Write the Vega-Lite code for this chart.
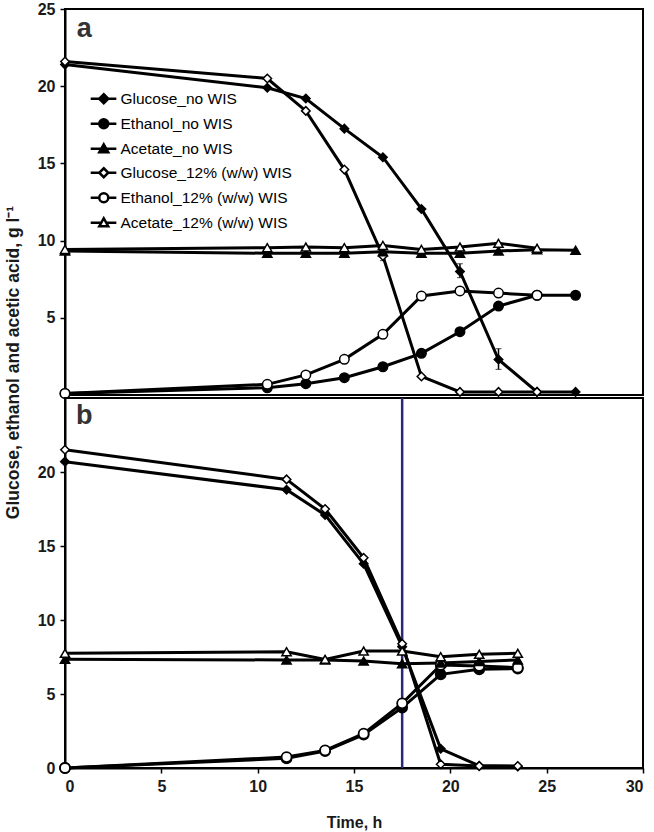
{
  "$schema": "https://vega.github.io/schema/vega-lite/v6.json",
  "background": "white",
  "padding": {"left": 4, "top": 0, "right": 8, "bottom": 1},
  "spacing": 3,
  "bounds": "flush",
  "title": {"text": "Glucose, ethanol and acetic acid, g l⁻¹", "orient": "left", "anchor": "middle", "fontSize": 17.5, "fontWeight": "bold", "font": "Liberation Sans", "color": "#1a1a1a", "offset": 14, "dx": 53},
  "datasets": {
    "a": [
      {"series": "Glucose_no WIS", "t": 0, "v": 21.4}, {"series": "Glucose_no WIS", "t": 10.5, "v": 19.9}, {"series": "Glucose_no WIS", "t": 12.5, "v": 19.2}, {"series": "Glucose_no WIS", "t": 14.5, "v": 17.25}, {"series": "Glucose_no WIS", "t": 16.5, "v": 15.4}, {"series": "Glucose_no WIS", "t": 18.5, "v": 12.05}, {"series": "Glucose_no WIS", "t": 20.5, "v": 8.0}, {"series": "Glucose_no WIS", "t": 22.5, "v": 2.3}, {"series": "Glucose_no WIS", "t": 24.5, "v": 0.2}, {"series": "Glucose_no WIS", "t": 26.5, "v": 0.2},
      {"series": "Ethanol_no WIS", "t": 0, "v": 0.1}, {"series": "Ethanol_no WIS", "t": 10.5, "v": 0.47}, {"series": "Ethanol_no WIS", "t": 12.5, "v": 0.73}, {"series": "Ethanol_no WIS", "t": 14.5, "v": 1.12}, {"series": "Ethanol_no WIS", "t": 16.5, "v": 1.83}, {"series": "Ethanol_no WIS", "t": 18.5, "v": 2.7}, {"series": "Ethanol_no WIS", "t": 20.5, "v": 4.1}, {"series": "Ethanol_no WIS", "t": 22.5, "v": 5.76}, {"series": "Ethanol_no WIS", "t": 24.5, "v": 6.46}, {"series": "Ethanol_no WIS", "t": 26.5, "v": 6.46},
      {"series": "Acetate_no WIS", "t": 0, "v": 9.33}, {"series": "Acetate_no WIS", "t": 10.5, "v": 9.18}, {"series": "Acetate_no WIS", "t": 12.5, "v": 9.18}, {"series": "Acetate_no WIS", "t": 14.5, "v": 9.18}, {"series": "Acetate_no WIS", "t": 16.5, "v": 9.28}, {"series": "Acetate_no WIS", "t": 18.5, "v": 9.18}, {"series": "Acetate_no WIS", "t": 20.5, "v": 9.18}, {"series": "Acetate_no WIS", "t": 22.5, "v": 9.33}, {"series": "Acetate_no WIS", "t": 24.5, "v": 9.4}, {"series": "Acetate_no WIS", "t": 26.5, "v": 9.37},
      {"series": "Glucose_12% (w/w) WIS", "t": 0, "v": 21.6}, {"series": "Glucose_12% (w/w) WIS", "t": 10.5, "v": 20.5}, {"series": "Glucose_12% (w/w) WIS", "t": 12.5, "v": 18.4}, {"series": "Glucose_12% (w/w) WIS", "t": 14.5, "v": 14.6}, {"series": "Glucose_12% (w/w) WIS", "t": 16.5, "v": 9.0}, {"series": "Glucose_12% (w/w) WIS", "t": 18.5, "v": 1.2}, {"series": "Glucose_12% (w/w) WIS", "t": 20.5, "v": 0.2}, {"series": "Glucose_12% (w/w) WIS", "t": 22.5, "v": 0.2}, {"series": "Glucose_12% (w/w) WIS", "t": 24.5, "v": 0.2},
      {"series": "Ethanol_12% (w/w) WIS", "t": 0, "v": 0.1}, {"series": "Ethanol_12% (w/w) WIS", "t": 10.5, "v": 0.69}, {"series": "Ethanol_12% (w/w) WIS", "t": 12.5, "v": 1.3}, {"series": "Ethanol_12% (w/w) WIS", "t": 14.5, "v": 2.31}, {"series": "Ethanol_12% (w/w) WIS", "t": 16.5, "v": 3.93}, {"series": "Ethanol_12% (w/w) WIS", "t": 18.5, "v": 6.41}, {"series": "Ethanol_12% (w/w) WIS", "t": 20.5, "v": 6.74}, {"series": "Ethanol_12% (w/w) WIS", "t": 22.5, "v": 6.6}, {"series": "Ethanol_12% (w/w) WIS", "t": 24.5, "v": 6.46},
      {"series": "Acetate_12% (w/w) WIS", "t": 0, "v": 9.43}, {"series": "Acetate_12% (w/w) WIS", "t": 10.5, "v": 9.54}, {"series": "Acetate_12% (w/w) WIS", "t": 12.5, "v": 9.58}, {"series": "Acetate_12% (w/w) WIS", "t": 14.5, "v": 9.54}, {"series": "Acetate_12% (w/w) WIS", "t": 16.5, "v": 9.69}, {"series": "Acetate_12% (w/w) WIS", "t": 18.5, "v": 9.43}, {"series": "Acetate_12% (w/w) WIS", "t": 20.5, "v": 9.58}, {"series": "Acetate_12% (w/w) WIS", "t": 22.5, "v": 9.82}, {"series": "Acetate_12% (w/w) WIS", "t": 24.5, "v": 9.5}
    ],
    "aerr": [
      {"series": "Glucose_no WIS", "t": 20.5, "lo": 7.6, "hi": 8.5},
      {"series": "Glucose_no WIS", "t": 22.5, "lo": 1.66, "hi": 3.0},
      {"series": "Glucose_12% (w/w) WIS", "t": 16.5, "lo": 8.7, "hi": 9.1}
    ],
    "b": [
      {"series": "Glucose_no WIS", "t": 0, "v": 20.7}, {"series": "Glucose_no WIS", "t": 11.5, "v": 18.8}, {"series": "Glucose_no WIS", "t": 13.5, "v": 17.1}, {"series": "Glucose_no WIS", "t": 15.5, "v": 13.8}, {"series": "Glucose_no WIS", "t": 17.5, "v": 8.2}, {"series": "Glucose_no WIS", "t": 19.5, "v": 1.3}, {"series": "Glucose_no WIS", "t": 21.5, "v": 0.15}, {"series": "Glucose_no WIS", "t": 23.5, "v": 0.1},
      {"series": "Ethanol_no WIS", "t": 0, "v": 0}, {"series": "Ethanol_no WIS", "t": 11.5, "v": 0.65}, {"series": "Ethanol_no WIS", "t": 13.5, "v": 1.15}, {"series": "Ethanol_no WIS", "t": 15.5, "v": 2.25}, {"series": "Ethanol_no WIS", "t": 17.5, "v": 4.08}, {"series": "Ethanol_no WIS", "t": 19.5, "v": 6.33}, {"series": "Ethanol_no WIS", "t": 21.5, "v": 6.67}, {"series": "Ethanol_no WIS", "t": 23.5, "v": 6.72},
      {"series": "Acetate_no WIS", "t": 0, "v": 7.34}, {"series": "Acetate_no WIS", "t": 11.5, "v": 7.3}, {"series": "Acetate_no WIS", "t": 13.5, "v": 7.3}, {"series": "Acetate_no WIS", "t": 15.5, "v": 7.23}, {"series": "Acetate_no WIS", "t": 17.5, "v": 7.05}, {"series": "Acetate_no WIS", "t": 19.5, "v": 7.1}, {"series": "Acetate_no WIS", "t": 21.5, "v": 7.2}, {"series": "Acetate_no WIS", "t": 23.5, "v": 7.3},
      {"series": "Glucose_12% (w/w) WIS", "t": 0, "v": 21.5}, {"series": "Glucose_12% (w/w) WIS", "t": 11.5, "v": 19.5}, {"series": "Glucose_12% (w/w) WIS", "t": 13.5, "v": 17.5}, {"series": "Glucose_12% (w/w) WIS", "t": 15.5, "v": 14.2}, {"series": "Glucose_12% (w/w) WIS", "t": 17.5, "v": 8.4}, {"series": "Glucose_12% (w/w) WIS", "t": 19.5, "v": 0.25}, {"series": "Glucose_12% (w/w) WIS", "t": 21.5, "v": 0.13}, {"series": "Glucose_12% (w/w) WIS", "t": 23.5, "v": 0.13},
      {"series": "Ethanol_12% (w/w) WIS", "t": 0, "v": 0}, {"series": "Ethanol_12% (w/w) WIS", "t": 11.5, "v": 0.74}, {"series": "Ethanol_12% (w/w) WIS", "t": 13.5, "v": 1.19}, {"series": "Ethanol_12% (w/w) WIS", "t": 15.5, "v": 2.32}, {"series": "Ethanol_12% (w/w) WIS", "t": 17.5, "v": 4.37}, {"series": "Ethanol_12% (w/w) WIS", "t": 19.5, "v": 6.96}, {"series": "Ethanol_12% (w/w) WIS", "t": 21.5, "v": 6.9}, {"series": "Ethanol_12% (w/w) WIS", "t": 23.5, "v": 6.78},
      {"series": "Acetate_12% (w/w) WIS", "t": 0, "v": 7.75}, {"series": "Acetate_12% (w/w) WIS", "t": 11.5, "v": 7.86}, {"series": "Acetate_12% (w/w) WIS", "t": 13.5, "v": 7.34}, {"series": "Acetate_12% (w/w) WIS", "t": 15.5, "v": 7.9}, {"series": "Acetate_12% (w/w) WIS", "t": 17.5, "v": 7.9}, {"series": "Acetate_12% (w/w) WIS", "t": 19.5, "v": 7.52}, {"series": "Acetate_12% (w/w) WIS", "t": 21.5, "v": 7.68}, {"series": "Acetate_12% (w/w) WIS", "t": 23.5, "v": 7.75}
    ]
  },
  "vconcat": [
    {
      "width": 578,
      "height": 386,
      "layer": [
        {
          "data": {"name": "a"},
          "mark": {"type": "line", "color": "black", "strokeWidth": 3},
          "encoding": {
            "x": {"field": "t", "type": "quantitative", "scale": {"domain": [0, 30], "nice": false}, "axis": null},
            "y": {"field": "v", "type": "quantitative", "scale": {"domain": [0, 25], "nice": false}, "axis": {"title": null, "values": [5, 10, 15, 20, 25]}},
            "detail": {"field": "series"},
            "order": {"field": "t"}
          }
        },
        {
          "data": {"name": "aerr"},
          "mark": {"type": "errorbar", "ticks": {"size": 6, "color": "black", "strokeWidth": 1.5}, "rule": {"color": "black", "strokeWidth": 1.5}},
          "encoding": {
            "x": {"field": "t", "type": "quantitative"},
            "y": {"field": "lo", "type": "quantitative"},
            "y2": {"field": "hi"}
          }
        },
        {
          "data": {"name": "a"},
          "transform": [{"filter": {"field": "series", "oneOf": ["Glucose_no WIS", "Glucose_12% (w/w) WIS"]}}],
          "mark": {"type": "point", "shape": "diamond", "filled": true, "size": 72, "stroke": "black", "strokeWidth": 1.5, "opacity": 1},
          "encoding": {
            "x": {"field": "t", "type": "quantitative"},
            "y": {"field": "v", "type": "quantitative"},
            "fill": {"condition": {"test": "indexof(datum.series, 'no WIS') >= 0", "value": "black"}, "value": "white"}
          }
        },
        {
          "data": {"name": "a"},
          "transform": [{"filter": {"field": "series", "oneOf": ["Ethanol_no WIS", "Ethanol_12% (w/w) WIS"]}}],
          "mark": {"type": "point", "shape": "circle", "filled": true, "size": 90, "stroke": "black", "strokeWidth": 1.5, "opacity": 1},
          "encoding": {
            "x": {"field": "t", "type": "quantitative"},
            "y": {"field": "v", "type": "quantitative"},
            "fill": {"condition": {"test": "indexof(datum.series, 'no WIS') >= 0", "value": "black"}, "value": "white"}
          }
        },
        {
          "data": {"name": "a"},
          "transform": [{"filter": {"field": "series", "oneOf": ["Acetate_no WIS", "Acetate_12% (w/w) WIS"]}}],
          "mark": {"type": "point", "shape": "triangle-up", "filled": true, "size": 85, "stroke": "black", "strokeWidth": 1.5, "opacity": 1},
          "encoding": {
            "x": {"field": "t", "type": "quantitative"},
            "y": {"field": "v", "type": "quantitative"},
            "fill": {"condition": {"test": "indexof(datum.series, 'no WIS') >= 0", "value": "black"}, "value": "white"}
          }
        },
        {
          "data": {"name": "a"},
          "transform": [{"filter": "datum.t < 0"}],
          "mark": {"type": "point", "filled": true, "size": 81, "stroke": "black", "strokeWidth": 2.5},
          "encoding": {
            "x": {"field": "t", "type": "quantitative"},
            "y": {"field": "v", "type": "quantitative"},
            "shape": {
              "field": "series",
              "type": "nominal",
              "scale": {
                "domain": ["Glucose_no WIS", "Ethanol_no WIS", "Acetate_no WIS", "Glucose_12% (w/w) WIS", "Ethanol_12% (w/w) WIS", "Acetate_12% (w/w) WIS"],
                "range": [
                  "M-2.9,0L-1,0M1,0L2.8,0M0,-1L1,0L0,1L-1,0Z",
                  "M-2.9,0L-1,0M1,0L2.8,0M1,0A1,1 0 1,1 -1,0A1,1 0 1,1 1,0Z",
                  "M-2.9,0L-0.6,0M0.6,0L2.8,0M0,-1L1,0.8L-1,0.8Z",
                  "M-2.9,0L-1,0M1,0L2.8,0M0,-1L1,0L0,1L-1,0Z",
                  "M-2.9,0L-1,0M1,0L2.8,0M1,0A1,1 0 1,1 -1,0A1,1 0 1,1 1,0Z",
                  "M-2.9,0L-0.6,0M0.6,0L2.8,0M0,-1L1,0.8L-1,0.8Z"
                ]
              },
              "legend": {"orient": "none", "legendX": 31, "legendY": 82, "title": null, "padding": 0, "labelFontSize": 15.5, "labelFont": "Liberation Sans", "labelColor": "black", "labelLimit": 0, "labelOffset": 9, "rowPadding": 5, "symbolSize": 81, "symbolStrokeColor": "black", "symbolStrokeWidth": 2.5, "symbolOpacity": 1, "encode": {"symbols": {"update": {"stroke": {"value": "black"}, "strokeWidth": {"value": 2.5}, "opacity": {"value": 1}}}}}
            },
            "fill": {
              "field": "series",
              "type": "nominal",
              "scale": {
                "domain": ["Glucose_no WIS", "Ethanol_no WIS", "Acetate_no WIS", "Glucose_12% (w/w) WIS", "Ethanol_12% (w/w) WIS", "Acetate_12% (w/w) WIS"],
                "range": ["black", "black", "black", "white", "white", "white"]
              },
              "legend": {"orient": "none", "legendX": 31, "legendY": 82, "title": null, "padding": 0, "labelFontSize": 15.5, "labelFont": "Liberation Sans", "labelColor": "black", "labelLimit": 0, "labelOffset": 9, "rowPadding": 5, "symbolSize": 81, "symbolStrokeColor": "black", "symbolStrokeWidth": 2.5, "symbolOpacity": 1, "encode": {"symbols": {"update": {"stroke": {"value": "black"}, "strokeWidth": {"value": 2.5}, "opacity": {"value": 1}}}}}
            }
          }
        },
        {
          "data": {"values": [{}]},
          "mark": {"type": "text", "text": "a", "fontSize": 27, "fontWeight": "bold", "font": "Liberation Sans", "color": "#333333", "align": "center", "baseline": "middle"},
          "encoding": {
            "x": {"datum": 1.0, "type": "quantitative"},
            "y": {"datum": 23.7, "type": "quantitative"}
          }
        }
      ]
    },
    {
      "width": 578,
      "height": 370,
      "layer": [
        {
          "data": {"values": [{}]},
          "mark": {"type": "rule", "color": "#2a2878", "strokeWidth": 2.5},
          "encoding": {"x": {"datum": 17.5, "type": "quantitative", "scale": {"domain": [0, 30], "nice": false}}}
        },
        {
          "data": {"name": "b"},
          "mark": {"type": "line", "color": "black", "strokeWidth": 3},
          "encoding": {
            "x": {"field": "t", "type": "quantitative", "scale": {"domain": [0, 30], "nice": false}, "axis": {"title": "Time, h", "values": [0, 5, 10, 15, 20, 25, 30]}},
            "y": {"field": "v", "type": "quantitative", "scale": {"domain": [0, 25], "nice": false}, "axis": {"title": null, "values": [0, 5, 10, 15, 20]}},
            "detail": {"field": "series"},
            "order": {"field": "t"}
          }
        },
        {
          "data": {"name": "b"},
          "transform": [{"filter": {"field": "series", "oneOf": ["Glucose_no WIS", "Glucose_12% (w/w) WIS"]}}],
          "mark": {"type": "point", "shape": "diamond", "filled": true, "size": 72, "stroke": "black", "strokeWidth": 1.5, "opacity": 1},
          "encoding": {
            "x": {"field": "t", "type": "quantitative"},
            "y": {"field": "v", "type": "quantitative"},
            "fill": {"condition": {"test": "indexof(datum.series, 'no WIS') >= 0", "value": "black"}, "value": "white"}
          }
        },
        {
          "data": {"name": "b"},
          "transform": [{"filter": {"field": "series", "oneOf": ["Ethanol_no WIS", "Ethanol_12% (w/w) WIS"]}}],
          "mark": {"type": "point", "shape": "circle", "filled": true, "size": 100, "stroke": "black", "strokeWidth": 1.8, "opacity": 1},
          "encoding": {
            "x": {"field": "t", "type": "quantitative"},
            "y": {"field": "v", "type": "quantitative"},
            "fill": {"condition": {"test": "indexof(datum.series, 'no WIS') >= 0", "value": "black"}, "value": "white"}
          }
        },
        {
          "data": {"name": "b"},
          "transform": [{"filter": {"field": "series", "oneOf": ["Acetate_no WIS", "Acetate_12% (w/w) WIS"]}}],
          "mark": {"type": "point", "shape": "triangle-up", "filled": true, "size": 85, "stroke": "black", "strokeWidth": 1.5, "opacity": 1},
          "encoding": {
            "x": {"field": "t", "type": "quantitative"},
            "y": {"field": "v", "type": "quantitative"},
            "fill": {"condition": {"test": "indexof(datum.series, 'no WIS') >= 0", "value": "black"}, "value": "white"}
          }
        },
        {
          "data": {"values": [{}]},
          "mark": {"type": "text", "text": "b", "fontSize": 27, "fontWeight": "bold", "font": "Liberation Sans", "color": "#333333", "align": "center", "baseline": "middle"},
          "encoding": {
            "x": {"datum": 1.0, "type": "quantitative"},
            "y": {"datum": 23.8, "type": "quantitative"}
          }
        }
      ]
    }
  ],
  "config": {
    "view": {"stroke": "black", "strokeWidth": 2},
    "axis": {
      "grid": false,
      "domainColor": "black",
      "domainWidth": 2,
      "tickColor": "black",
      "tickWidth": 1.5,
      "tickSize": 5,
      "labelPadding": 5,
      "labelFont": "Liberation Sans",
      "labelFontWeight": "bold",
      "labelFontSize": 16,
      "labelColor": "#1a1a1a",
      "titleFont": "Liberation Sans",
      "titleFontWeight": "bold",
      "titleFontSize": 16,
      "titleColor": "#1a1a1a",
      "titlePadding": 20
    }
  }
}
